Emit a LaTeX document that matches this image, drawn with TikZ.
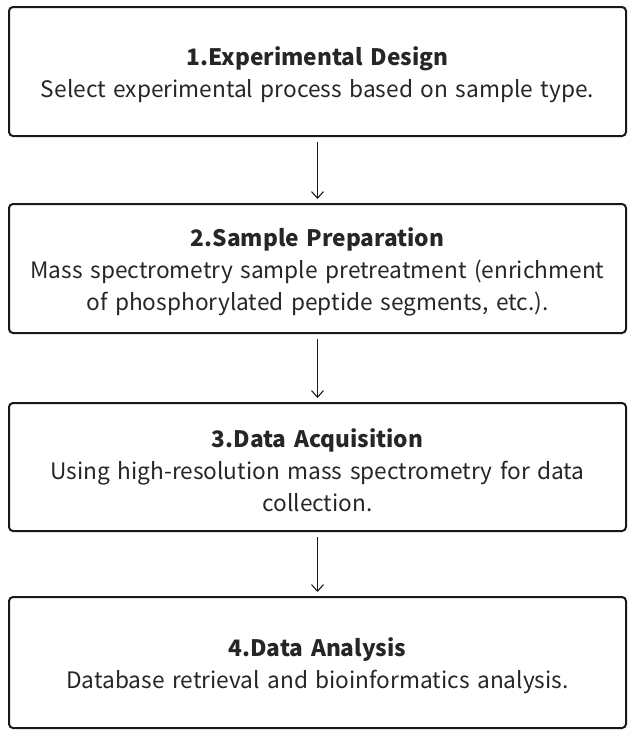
\documentclass[tikz,border=0pt]{standalone}
\usepackage{fontspec}
\setmainfont{Noto Sans CJK SC}
\usetikzlibrary{arrows.meta}
\newcommand{\stagetitle}[1]{\rule{0pt}{19.5pt}\textbf{#1}}
\tikzset{
  stagebox/.style={draw=black!90,line width=1.5pt,rounded corners=3pt,minimum width=617*0.75pt,text width=600*0.75pt,align=center,inner sep=0pt,font=\fontsize{17}{24}\selectfont,text=black!85},
  flowarrow/.style={draw=black!90,line width=0.8pt,-{Straight Barb[length=5pt,width=9pt]},shorten <=4pt,shorten >=3pt}
}
\begin{document}
\begin{tikzpicture}[x=0.75pt,y=-0.75pt]
\useasboundingbox (0,0) rectangle (641,733);
\node[stagebox,minimum height=129*0.75pt] (design) at (317.5,71.5) {\stagetitle{1.Experimental Design}\\Select experimental process based on sample type.};
\node[stagebox,minimum height=129*0.75pt] (prep) at (317.5,268.5) {\stagetitle{2.Sample Preparation}\\Mass spectrometry sample pretreatment (enrichment\\of phosphorylated peptide segments, etc.).};
\node[stagebox,minimum height=128*0.75pt] (acq) at (317.5,467) {\stagetitle{3.Data Acquisition}\\Using high-resolution mass spectrometry for data\\collection.};
\node[stagebox,minimum height=131*0.75pt] (analysis) at (317.5,662.5) {\stagetitle{4.Data Analysis}\\Database retrieval and bioinformatics analysis.};
\draw[flowarrow] (design) -- (prep);
\draw[flowarrow] (prep) -- (acq);
\draw[flowarrow] (acq) -- (analysis);
\end{tikzpicture}
\end{document}
